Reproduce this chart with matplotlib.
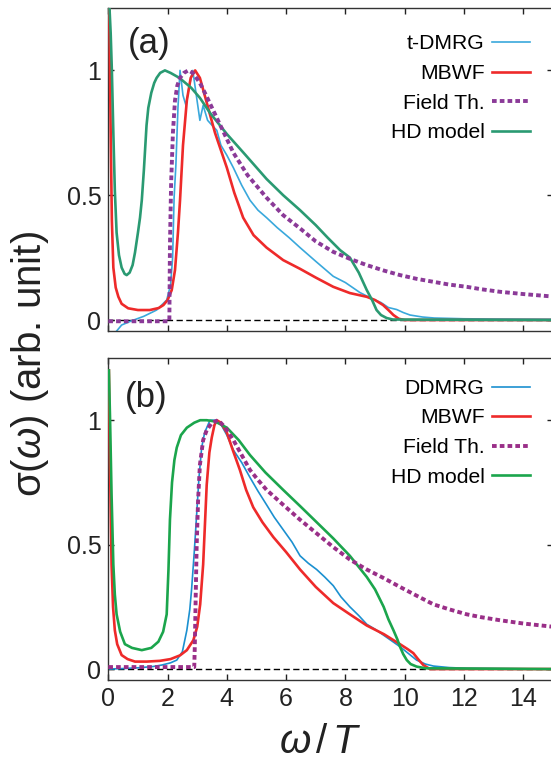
import numpy as np
import matplotlib
matplotlib.use("Agg")
import matplotlib.pyplot as plt

plt.rcParams['font.family'] = ['Liberation Sans', 'DejaVu Sans']
plt.rcParams['mathtext.fontset'] = 'custom'
plt.rcParams['mathtext.rm'] = 'Liberation Sans'
plt.rcParams['mathtext.it'] = 'Liberation Sans:italic'

# ---- panel (a) ----
a_dmrg_x = [0.22, 0.45, 0.79, 1.2, 1.63, 1.97, 2.1, 2.17, 2.22, 2.28, 2.35, 2.42, 2.52, 2.62, 2.72, 2.85,
            2.97, 3.09, 3.2, 3.35, 3.5, 3.66, 3.8, 4.0, 4.22, 4.5, 4.78, 5.05, 5.34, 5.7, 6.1, 6.47, 7.0,
            7.59, 8.0, 8.49, 8.94, 9.2, 9.45, 9.73, 9.95, 10.18, 10.6, 11.0, 12.0, 13.0, 15.0]
a_dmrg_y = [-0.053, -0.02, -0.003, 0.015, 0.04, 0.08, 0.14, 0.25, 0.49, 0.62, 0.85, 1.0, 0.9, 0.86, 0.93, 1.0,
            0.9, 0.8, 0.86, 0.8, 0.78, 0.76, 0.7, 0.66, 0.61, 0.54, 0.48, 0.44, 0.41, 0.37, 0.33, 0.29, 0.235,
            0.175, 0.15, 0.11, 0.083, 0.07, 0.05, 0.042, 0.03, 0.02, 0.012, 0.008, 0.005, 0.004, 0.003]

a_mbwf_x = [0.03, 0.08, 0.12, 0.17, 0.25, 0.34, 0.45, 0.67, 1.0, 1.4, 1.7, 1.86, 2.0, 2.14, 2.25, 2.35, 2.42,
            2.52, 2.65, 2.78, 2.93, 3.09, 3.3, 3.6, 4.0, 4.25, 4.55, 4.9, 5.34, 5.9, 6.47, 7.0, 7.59, 8.15,
            8.72, 9.0, 9.27, 9.45, 9.62, 9.8, 10.0, 15.0]
a_mbwf_y = [1.3, 0.75, 0.4, 0.21, 0.13, 0.093, 0.065, 0.047, 0.04, 0.04, 0.048, 0.06, 0.08, 0.12, 0.2, 0.35, 0.48,
            0.7, 0.88, 0.97, 1.0, 0.97, 0.88, 0.75, 0.61, 0.51, 0.41, 0.34, 0.29, 0.24, 0.205, 0.17, 0.133, 0.108,
            0.093, 0.08, 0.06, 0.04, 0.02, 0.005, 0.0, 0.0]

a_field_x = [0.0, 2.06, 2.08, 2.12, 2.18, 2.25, 2.33, 2.42, 2.55, 2.7, 2.85, 3.09, 3.3, 3.54, 3.9, 4.22, 4.7,
             5.34, 5.9, 6.47, 7.0, 7.59, 8.15, 8.72, 9.3, 9.84, 10.4, 10.97, 11.5, 12.09, 12.6, 13.22, 14.0, 15.0]
a_field_y = [-0.005, -0.005, 0.3, 0.55, 0.75, 0.88, 0.94, 0.97, 0.99, 1.0, 0.99, 0.95, 0.9, 0.84, 0.75, 0.67, 0.58,
             0.49, 0.42, 0.367, 0.315, 0.273, 0.245, 0.22, 0.198, 0.18, 0.165, 0.153, 0.142, 0.133, 0.123, 0.113,
             0.104, 0.094]

a_hd_x = [0.02, 0.08, 0.12, 0.17, 0.22, 0.28, 0.36, 0.45, 0.55, 0.62, 0.72, 0.82, 0.9, 1.0, 1.07, 1.13, 1.2,
          1.29, 1.35, 1.45, 1.55, 1.63, 1.75, 1.91, 2.1, 2.4, 2.8, 3.09, 3.43, 4.0, 4.6, 5.34, 5.9, 6.47, 7.0,
          7.4, 7.82, 8.15, 8.45, 8.72, 8.9, 9.05, 9.2, 9.39, 9.6, 15.0]
a_hd_y = [1.3, 1.15, 1.0, 0.75, 0.52, 0.35, 0.26, 0.21, 0.185, 0.18, 0.19, 0.22, 0.27, 0.35, 0.41, 0.48, 0.6,
          0.78, 0.85, 0.91, 0.95, 0.97, 0.99, 1.0, 0.99, 0.97, 0.93, 0.89, 0.83, 0.745, 0.665, 0.565, 0.5, 0.44, 0.38,
          0.33, 0.28, 0.25, 0.19, 0.12, 0.08, 0.04, 0.02, 0.008, 0.002, 0.0]

# ---- panel (b) ----
b_dmrg_x = [0.0, 0.5, 1.0, 1.5, 1.8, 2.1, 2.31, 2.5, 2.65, 2.75, 2.81, 2.9, 2.98, 3.06, 3.15, 3.25, 3.43, 3.6,
            3.77, 4.0, 4.22, 4.5, 4.78, 5.05, 5.34, 5.6, 5.9, 6.2, 6.47, 6.75, 7.03, 7.3, 7.59, 7.85, 8.15, 8.45,
            8.72, 9.0, 9.3, 9.6, 9.84, 10.1, 10.4, 10.7, 10.97, 11.5, 12.1, 15.0]
b_dmrg_y = [0.0, 0.002, 0.005, 0.01, 0.016, 0.025, 0.036, 0.07, 0.156, 0.24, 0.32, 0.47, 0.62, 0.77, 0.89, 0.95,
            1.0, 1.0, 0.99, 0.94, 0.88, 0.83, 0.77, 0.715, 0.66, 0.61, 0.56, 0.51, 0.455, 0.425, 0.40, 0.37, 0.335,
            0.29, 0.25, 0.215, 0.18, 0.16, 0.135, 0.11, 0.09, 0.065, 0.036, 0.02, 0.012, 0.006, 0.003, 0.0]

b_mbwf_x = [0.02, 0.06, 0.11, 0.16, 0.22, 0.3, 0.45, 0.65, 0.9, 1.3, 1.74, 2.1, 2.42, 2.65, 2.87, 3.0, 3.1, 3.2,
            3.32, 3.41, 3.49, 3.58, 3.66, 3.8, 4.0, 4.2, 4.44, 4.65, 4.89, 5.2, 5.57, 6.0, 6.47, 7.0, 7.59, 8.15,
            8.72, 9.3, 9.84, 10.1, 10.29, 10.45, 10.63, 10.85, 15.0]
b_mbwf_y = [1.2, 0.8, 0.42, 0.25, 0.156, 0.1, 0.056, 0.04, 0.03, 0.03, 0.033, 0.04, 0.055, 0.076, 0.116, 0.17,
            0.26, 0.42, 0.74, 0.87, 0.93, 0.98, 1.0, 0.99, 0.95, 0.88, 0.8, 0.72, 0.65, 0.59, 0.53, 0.47, 0.40,
            0.33, 0.265, 0.22, 0.175, 0.14, 0.10, 0.08, 0.064, 0.04, 0.016, 0.0, 0.0]

b_field_x = [0.0, 2.9, 2.92, 2.95, 2.98, 3.03, 3.09, 3.2, 3.32, 3.5, 3.71, 3.95, 4.22, 4.5, 4.78, 5.05, 5.34,
             5.9, 6.47, 7.03, 7.59, 8.15, 8.72, 9.3, 9.84, 10.4, 10.97, 11.5, 12.09, 12.6, 13.22, 14.0, 15.0]
b_field_y = [0.008, 0.008, 0.1, 0.3, 0.49, 0.68, 0.82, 0.92, 0.96, 0.99, 1.0, 0.97, 0.92, 0.86, 0.80, 0.76, 0.72,
             0.66, 0.60, 0.545, 0.49, 0.44, 0.40, 0.365, 0.33, 0.295, 0.26, 0.24, 0.22, 0.208, 0.196, 0.183, 0.17]

b_hd_x = [0.02, 0.06, 0.11, 0.17, 0.22, 0.28, 0.4, 0.56, 0.8, 1.13, 1.45, 1.69, 1.85, 1.97, 2.03, 2.08, 2.15,
          2.23, 2.31, 2.45, 2.65, 2.9, 3.1, 3.32, 3.6, 4.0, 4.4, 4.78, 5.3, 5.9, 6.47, 7.03, 7.59, 8.15, 8.72, 9.0,
          9.29, 9.45, 9.62, 9.75, 9.84, 9.95, 10.07, 10.2, 10.4, 10.7, 15.0]
b_hd_y = [1.2, 1.0, 0.7, 0.42, 0.3, 0.22, 0.15, 0.1, 0.085, 0.076, 0.085, 0.11, 0.15, 0.22, 0.4, 0.6, 0.75,
          0.84, 0.89, 0.94, 0.97, 0.99, 1.0, 1.0, 0.995, 0.97, 0.92, 0.86, 0.79, 0.72, 0.655, 0.59, 0.525, 0.455,
          0.37, 0.32, 0.25, 0.2, 0.156, 0.12, 0.09, 0.06, 0.036, 0.02, 0.01, 0.003, 0.0]

labels_a = ['t-DMRG', 'MBWF', 'Field Th.', 'HD model']
labels_b = ['DDMRG', 'MBWF', 'Field Th.', 'HD model']

fig = plt.figure(figsize=(5.51, 7.62), dpi=100)
W, H = 551.0, 762.0
axA = fig.add_axes([108.3 / W, 1 - 331 / H, 444.6 / W, 323 / H])
axB = fig.add_axes([108.3 / W, 1 - 680 / H, 444.6 / W, 322 / H])

dots = (0, (1.2, 0.8))

def draw(ax, curves, colors, labels, tag, tagpos, legtop):
    ax.axhline(0, color='k', lw=1.0, ls=(0, (4.5, 2.5)), zorder=1)
    (bx, by), (rx, ry), (fx, fy), (gx, gy) = curves
    ax.plot(bx, by, color=colors[0], lw=1.2, label=labels[0], zorder=2)
    ax.plot(rx, ry, color=colors[1], lw=1.9, label=labels[1], zorder=3)
    ax.plot(fx, fy, color=colors[2], lw=2.8, ls=dots, label=labels[2], zorder=5)
    ax.plot(gx, gy, color=colors[3], lw=1.9, label=labels[3], zorder=4)
    ax.set_xlim(0, 15)
    ax.set_ylim(-0.044, 1.25)
    ax.set_xticks(np.arange(0, 15, 2))
    ax.set_yticks([0, 0.5, 1])
    ax.set_yticklabels(['0', '0.5', '1'])
    ax.tick_params(direction='in', top=True, right=True, length=4.5, width=1,
                   labelsize=18, pad=5, colors='#222222', labelcolor='#222222')
    for s in ax.spines.values():
        s.set_color('#333333')
        s.set_linewidth(1.0)
    ax.text(tagpos[0], tagpos[1], tag, transform=ax.transAxes, fontsize=25, va='center', ha='left',
            color='#222222')
    ax.legend(loc='upper right', bbox_to_anchor=(0.9485, legtop), frameon=False, markerfirst=False,
              fontsize=15.2, handlelength=1.8, handletextpad=0.35, labelspacing=0.5,
              borderpad=0, borderaxespad=0)

draw(axA, [(a_dmrg_x, a_dmrg_y), (a_mbwf_x, a_mbwf_y), (a_field_x, a_field_y), (a_hd_x, a_hd_y)],
     ['#39a8dc', '#ee2a2a', '#8b3a98', '#2a9a72'], labels_a, '(a)', (0.044, 0.889), 0.918)
draw(axB, [(b_dmrg_x, b_dmrg_y), (b_mbwf_x, b_mbwf_y), (b_field_x, b_field_y), (b_hd_x, b_hd_y)],
     ['#1b90d0', '#ee2a2a', '#9a2f88', '#1ba54c'], labels_b, '(b)', (0.038, 0.876), 0.935)
axA.tick_params(labelbottom=False)

fig.text(30 / W, 1 - 364 / H, 'σ($\\omega$) (arb. unit)', rotation=90, ha='center', va='center',
         fontsize=29, color='#222222')
fig.text(320 / W, 1 - 753 / H, '$\\omega\\,/\\,T$', ha='center', va='baseline', fontsize=29,
         color='#222222')

fig.savefig('out.png', dpi=100)
